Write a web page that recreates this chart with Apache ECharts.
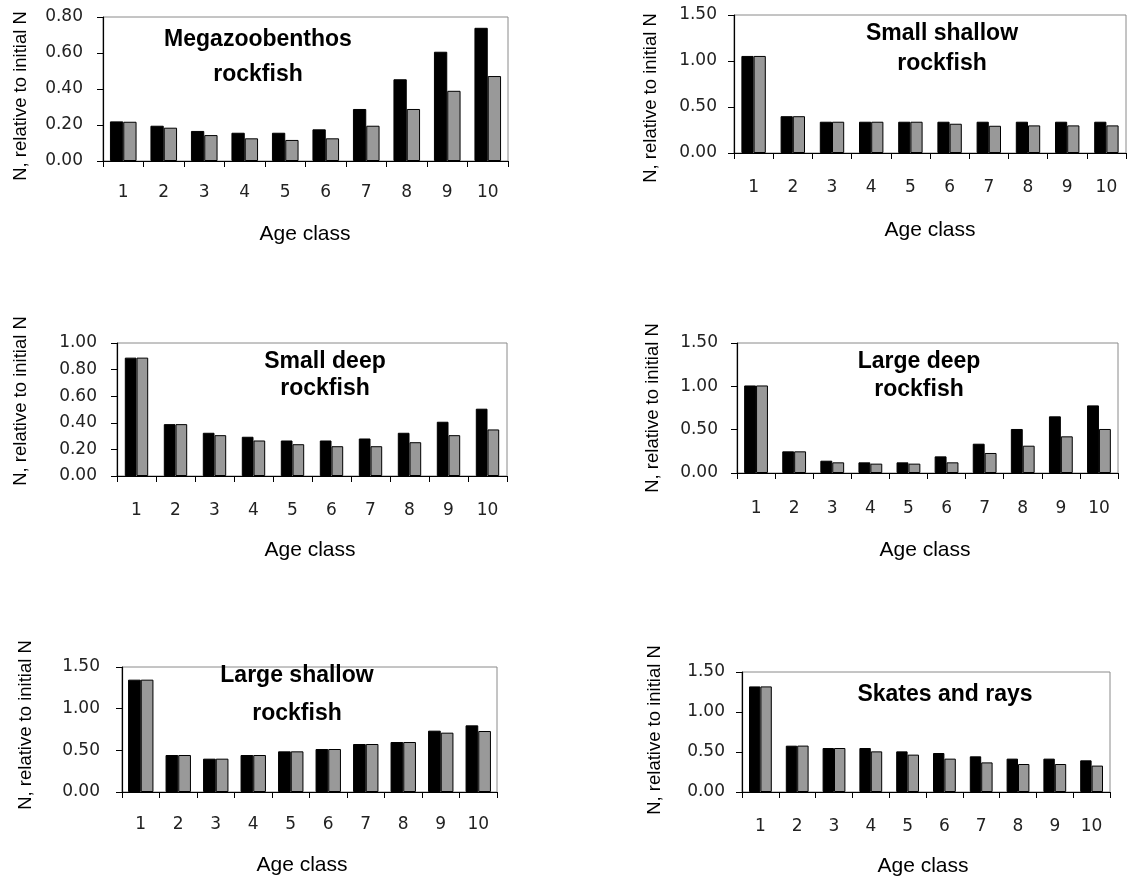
<!DOCTYPE html>
<html>
<head>
<meta charset="utf-8">
<style>
  html, body { margin: 0; padding: 0; background: #ffffff; }
  #chart { width: 1135px; height: 880px; }
</style>
<script src="https://cdn.jsdelivr.net/npm/echarts@6/dist/echarts.min.js"></script>
</head>
<body>
<div id="chart"></div>
<script>
// Age classes along every x axis
const ageClasses = ['1', '2', '3', '4', '5', '6', '7', '8', '9', '10'];

// N relative to initial N, two scenarios per group (black / grey bars)
const megazoobenthosBlack = [0.22, 0.196, 0.167, 0.157, 0.157, 0.176, 0.289, 0.454, 0.607, 0.74];
const megazoobenthosGrey  = [0.218, 0.185, 0.144, 0.126, 0.117, 0.126, 0.196, 0.289, 0.39, 0.472];

const smallShallowBlack = [1.055, 0.40, 0.34, 0.34, 0.34, 0.34, 0.34, 0.34, 0.34, 0.34];
const smallShallowGrey  = [1.055, 0.40, 0.34, 0.34, 0.34, 0.318, 0.296, 0.30, 0.30, 0.30];

const smallDeepBlack = [0.89, 0.39, 0.325, 0.295, 0.267, 0.267, 0.282, 0.325, 0.408, 0.506];
const smallDeepGrey  = [0.89, 0.39, 0.307, 0.267, 0.239, 0.224, 0.224, 0.254, 0.307, 0.35];

const largeDeepBlack = [1.01, 0.25, 0.142, 0.123, 0.123, 0.192, 0.338, 0.508, 0.654, 0.78];
const largeDeepGrey  = [1.01, 0.25, 0.123, 0.108, 0.108, 0.123, 0.231, 0.315, 0.423, 0.508];

const largeShallowBlack = [1.348, 0.444, 0.40, 0.444, 0.488, 0.516, 0.576, 0.60, 0.736, 0.80];
const largeShallowGrey  = [1.348, 0.444, 0.40, 0.444, 0.488, 0.516, 0.576, 0.60, 0.712, 0.732];

const skatesBlack = [1.32, 0.579, 0.55, 0.55, 0.508, 0.4875, 0.446, 0.417, 0.417, 0.396];
const skatesGrey  = [1.32, 0.58, 0.55, 0.508, 0.467, 0.417, 0.37, 0.35, 0.35, 0.33];

// Panel titles and axis names
const panelTitles = [
  ['Megazoobenthos', 'rockfish'],
  ['Small shallow', 'rockfish'],
  ['Small deep', 'rockfish'],
  ['Large deep', 'rockfish'],
  ['Large shallow', 'rockfish'],
  ['Skates and rays']
];
const xAxisName = 'Age class';
const yAxisName = 'N, relative to initial N';

// Value-axis ranges per panel
const yMax = [0.8, 1.5, 1.0, 1.5, 1.5, 1.5];
const yStep = [0.2, 0.5, 0.2, 0.5, 0.5, 0.5];

const seriesBlack = [megazoobenthosBlack, smallShallowBlack, smallDeepBlack, largeDeepBlack, largeShallowBlack, skatesBlack];
const seriesGrey = [megazoobenthosGrey, smallShallowGrey, smallDeepGrey, largeDeepGrey, largeShallowGrey, skatesGrey];

// Layout of each small panel
const layout = [
  { left: 103, top: 17,  width: 405, height: 144, barW: 13.3, yMargin: 20, xMargin: 23,
    title: { x: 258, y: [40, 75], lh: 35 }, xName: { x: 305, y: 234 }, yName: { x: 21, y: 96 } },
  { left: 734, top: 15,  width: 392, height: 138, barW: 12.2, yMargin: 17, xMargin: 26,
    title: { x: 942, y: [34, 64] }, xName: { x: 930, y: 230 }, yName: { x: 651, y: 98 } },
  { left: 117, top: 343, width: 390, height: 133, barW: 11.7, yMargin: 20, xMargin: 26,
    title: { x: 325, y: [362, 389] }, xName: { x: 310, y: 550 }, yName: { x: 21, y: 401 } },
  { left: 737, top: 343, width: 381, height: 130, barW: 11.9, yMargin: 19, xMargin: 27,
    title: { x: 919, y: [362, 390] }, xName: { x: 925, y: 550 }, yName: { x: 653, y: 408 } },
  { left: 122, top: 667, width: 375, height: 125, barW: 12.7, yMargin: 22, xMargin: 24,
    title: { x: 297, y: [676, 714] }, xName: { x: 302, y: 865 }, yName: { x: 26, y: 725 } },
  { left: 742, top: 672, width: 368, height: 120, barW: 11.4, yMargin: 17, xMargin: 26,
    title: { x: 945, y: [695] }, xName: { x: 923, y: 866 }, yName: { x: 655, y: 730 } }
];

const tickFont = 'DejaVu Sans';
const textFont = 'Liberation Sans, Arial, sans-serif';

const grids = [], xAxes = [], yAxes = [], series = [], graphics = [];

layout.forEach(function (p, i) {
  grids.push({
    left: p.left, top: p.top, width: p.width, height: p.height,
    show: true, borderColor: '#8a8a8a', borderWidth: 1, backgroundColor: 'transparent'
  });
  xAxes.push({
    type: 'category', gridIndex: i, data: ageClasses, boundaryGap: true,
    axisLine: { lineStyle: { color: '#000', width: 1.2 } },
    axisTick: { show: true, inside: false, length: 6, alignWithLabel: false, lineStyle: { color: '#000' } },
    axisLabel: { fontFamily: tickFont, fontSize: 17, color: '#222', margin: p.xMargin },
    splitLine: { show: false }
  });
  yAxes.push({
    type: 'value', gridIndex: i, min: 0, max: yMax[i], interval: yStep[i],
    axisLine: { show: true, lineStyle: { color: '#000', width: 1.2 } },
    axisTick: { show: true, inside: false, length: 6, lineStyle: { color: '#000' } },
    axisLabel: { fontFamily: tickFont, fontSize: 17, color: '#222', margin: p.yMargin,
                 formatter: function (v) { return v.toFixed(2); } },
    splitLine: { show: false }
  });
  series.push({
    type: 'bar', xAxisIndex: i, yAxisIndex: i, data: seriesBlack[i],
    barWidth: p.barW, barGap: '0%',
    itemStyle: { color: '#000000', borderColor: '#000', borderWidth: 1 },
    silent: true
  });
  series.push({
    type: 'bar', xAxisIndex: i, yAxisIndex: i, data: seriesGrey[i],
    barWidth: p.barW, barGap: '0%',
    itemStyle: { color: '#999999', borderColor: '#000', borderWidth: 1 },
    silent: true
  });

  // Two-line bold panel title inside the plot area
  panelTitles[i].forEach(function (line, k) {
    graphics.push({
      type: 'text', x: p.title.x, y: p.title.y[k], z: 10,
      style: { text: line, fontFamily: textFont, fontWeight: 'bold', fontSize: 23,
               fill: '#000', align: 'center', verticalAlign: 'middle' }
    });
  });
  // Axis names
  graphics.push({
    type: 'text', x: p.xName.x, y: p.xName.y,
    style: { text: xAxisName, fontFamily: textFont, fontSize: 21, fill: '#000',
             align: 'center', verticalAlign: 'middle' }
  });
  graphics.push({
    type: 'text', x: p.yName.x, y: p.yName.y, rotation: Math.PI / 2,
    style: { text: yAxisName, fontFamily: textFont, fontSize: 18.5, fill: '#000',
             align: 'center', verticalAlign: 'middle' }
  });
});

const chart = echarts.init(document.getElementById('chart'), null, { renderer: 'canvas' });
chart.setOption({
  animation: false,
  backgroundColor: '#ffffff',
  grid: grids,
  xAxis: xAxes,
  yAxis: yAxes,
  series: series,
  graphic: graphics
});
</script>
</body>
</html>
